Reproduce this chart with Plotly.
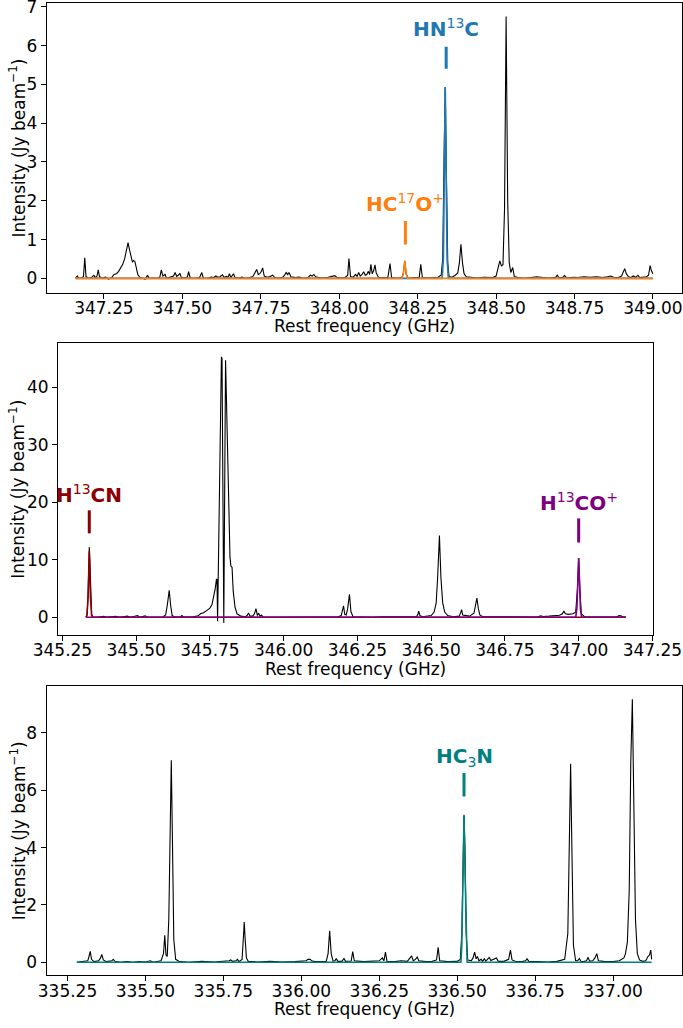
import plotly.graph_objects as go

# ---------------- DATA ----------------
# Panel 1 (348 GHz window)
p1_freq = [347.160, 347.165, 347.170, 347.180, 347.185, 347.189, 347.193, 347.200, 347.210, 347.218,
           347.223, 347.228, 347.232, 347.236, 347.245, 347.255, 347.265, 347.275, 347.282, 347.290,
           347.297, 347.303, 347.310, 347.316, 347.322, 347.327, 347.332, 347.337, 347.341, 347.345,
           347.349, 347.353, 347.358, 347.365, 347.375, 347.382, 347.389, 347.394, 347.405, 347.420,
           347.428, 347.433, 347.438, 347.445, 347.450, 347.465, 347.472, 347.477, 347.482, 347.487,
           347.492, 347.497, 347.510, 347.516, 347.520, 347.525, 347.540, 347.555, 347.562, 347.567,
           347.580, 347.592, 347.600, 347.607, 347.613, 347.620, 347.628, 347.633, 347.640, 347.646,
           347.650, 347.655, 347.663, 347.668, 347.680, 347.690, 347.700, 347.715, 347.725, 347.731,
           347.737, 347.742, 347.747, 347.752, 347.756, 347.761, 347.770, 347.778, 347.788, 347.795,
           347.810, 347.820, 347.826, 347.831, 347.836, 347.840, 347.846, 347.860, 347.872, 347.885,
           347.900, 347.908, 347.914, 347.919, 347.925, 347.935, 347.950, 347.965, 347.975, 347.986,
           347.993, 348.010, 348.020, 348.027, 348.031, 348.036, 348.045, 348.052, 348.057, 348.062,
           348.067, 348.073, 348.078, 348.083, 348.088, 348.093, 348.097, 348.101, 348.105, 348.110,
           348.114, 348.118, 348.125, 348.140, 348.155, 348.162, 348.167, 348.185, 348.200, 348.205,
           348.209, 348.213, 348.220, 348.240, 348.255, 348.260, 348.265, 348.285, 348.300, 348.315,
           348.325, 348.330, 348.334, 348.338, 348.342, 348.346, 348.350, 348.360, 348.370, 348.378,
           348.383, 348.388, 348.393, 348.398, 348.405, 348.420, 348.440, 348.460, 348.475, 348.490,
           348.500, 348.507, 348.512, 348.517, 348.522, 348.527, 348.532, 348.537, 348.542, 348.547,
           348.553, 348.558, 348.570, 348.590, 348.610, 348.630, 348.650, 348.670, 348.690, 348.695,
           348.700, 348.712, 348.718, 348.725, 348.745, 348.760, 348.780, 348.800, 348.820, 348.840,
           348.855, 348.865, 348.875, 348.890, 348.900, 348.906, 348.910, 348.915, 348.922, 348.930,
           348.938, 348.945, 348.952, 348.958, 348.970, 348.980, 348.986, 348.991, 348.995, 349.000]
p1_int = [0.00, 0.06, 0.00, 0.01, 0.05, 0.53, 0.05, 0.00, 0.02, 0.08,
          0.02, 0.06, 0.22, 0.04, 0.01, 0.03, -0.02, 0.02, 0.10, 0.12,
          0.18, 0.25, 0.36, 0.50, 0.74, 0.92, 0.72, 0.52, 0.42, 0.46,
          0.43, 0.28, 0.10, 0.02, 0.00, -0.02, 0.08, 0.00, 0.01, 0.00,
          0.02, 0.22, 0.06, 0.10, 0.00, 0.03, 0.06, 0.15, 0.05, 0.08,
          0.13, 0.02, 0.01, 0.04, 0.17, 0.01, 0.00, 0.02, 0.15, 0.01,
          0.00, 0.03, 0.02, 0.06, 0.03, 0.04, 0.09, 0.02, 0.05, 0.03,
          0.12, 0.02, 0.12, 0.02, 0.01, 0.03, 0.00, 0.02, 0.05, 0.14,
          0.23, 0.10, 0.12, 0.18, 0.27, 0.06, 0.03, 0.04, 0.08, 0.02,
          0.01, 0.03, 0.08, 0.15, 0.10, 0.15, 0.04, 0.02, 0.03, 0.00,
          0.02, 0.08, 0.06, 0.10, 0.04, 0.02, 0.01, 0.03, 0.05, 0.07,
          0.02, 0.01, 0.03, 0.08, 0.51, 0.05, 0.03, 0.10, 0.05, 0.15,
          0.06, 0.10, 0.17, 0.08, 0.10, 0.18, 0.10, 0.36, 0.12, 0.20,
          0.35, 0.14, 0.03, 0.02, 0.02, 0.38, 0.02, 0.00, 0.02, 0.15,
          0.45, 0.12, 0.00, 0.02, 0.02, 0.36, 0.02, 0.01, 0.02, 0.03,
          0.08, 0.50, 3.00, 4.93, 2.50, 0.40, 0.05, 0.03, 0.08, 0.14,
          0.40, 0.88, 0.40, 0.12, 0.04, 0.03, 0.01, 0.03, 0.02, 0.02,
          0.06, 0.30, 0.45, 0.32, 0.35, 1.80, 6.75, 2.00, 0.40, 0.15,
          0.28, 0.05, 0.02, 0.00, 0.02, 0.04, 0.02, 0.01, 0.03, 0.08,
          0.02, 0.02, 0.07, 0.01, 0.03, 0.02, 0.04, 0.03, 0.04, 0.02,
          0.04, 0.06, 0.03, 0.02, 0.06, 0.18, 0.25, 0.12, 0.04, 0.02,
          0.06, 0.02, 0.08, 0.02, 0.03, 0.04, 0.08, 0.33, 0.20, 0.12]
hn13c_freq = [347.160, 348.328, 348.332, 348.335, 348.338, 348.341, 348.344, 348.348, 349.000]
hn13c_int = [0.0, 0.0, 0.5, 2.6, 4.93, 2.6, 0.5, 0.0, 0.0]
hc17o_freq = [347.160, 348.200, 348.204, 348.207, 348.209, 348.211, 348.214, 348.218, 349.000]
hc17o_int = [0.0, 0.0, 0.1, 0.3, 0.45, 0.3, 0.1, 0.0, 0.0]

# Panel 2 (346 GHz window)
p2_freq = [345.330, 345.334, 345.337, 345.340, 345.341, 345.343, 345.346, 345.349, 345.353, 345.370,
           345.390, 345.400, 345.430, 345.445, 345.470, 345.480, 345.505, 345.512, 345.530, 345.540,
           345.590, 345.600, 345.606, 345.612, 345.617, 345.622, 345.630, 345.650, 345.655, 345.660,
           345.690, 345.710, 345.718, 345.728, 345.740, 345.750, 345.757, 345.763, 345.768, 345.772,
           345.774, 345.776, 345.789, 345.791, 345.797, 345.801, 345.803, 345.806, 345.809, 345.813,
           345.818, 345.821, 345.825, 345.829, 345.835, 345.842, 345.855, 345.870, 345.876, 345.881,
           345.886, 345.895, 345.901, 345.906, 345.911, 345.915, 345.920, 345.925, 345.930, 345.960,
           346.000, 346.050, 346.100, 346.150, 346.185, 346.195, 346.199, 346.203, 346.207, 346.212,
           346.217, 346.223, 346.228, 346.235, 346.260, 346.300, 346.340, 346.380, 346.420, 346.450,
           346.455, 346.458, 346.462, 346.470, 346.500, 346.510, 346.517, 346.522, 346.528, 346.533,
           346.539, 346.546, 346.556, 346.575, 346.595, 346.600, 346.603, 346.607, 346.630, 346.645,
           346.650, 346.655, 346.660, 346.665, 346.675, 346.700, 346.719, 346.740, 346.770, 346.800,
           346.830, 346.860, 346.871, 346.880, 346.900, 346.920, 346.935, 346.945, 346.950, 346.955,
           346.965, 346.980, 346.990, 346.996, 347.000, 347.004, 347.009, 347.020, 347.050, 347.080,
           347.110, 347.130, 347.137, 347.143, 347.150, 347.160]
p2_int = [0.0, 0.6, 4.0, 11.0, 12.2, 10.0, 3.0, 0.5, 0.05, 0.0,
          0.15, 0.0, 0.15, 0.0, 0.2, 0.0, 0.3, 0.0, 0.25, 0.0,
          0.05, 0.4, 2.3, 4.7, 2.0, 0.3, 0.05, 0.05, 0.3, 0.05,
          0.05, 0.25, 0.6, 0.8, 1.2, 1.6, 2.2, 3.5, 5.0, 6.6,
          6.6, -0.7, 45.3, 45.0, -1.0, 38.6, 44.7, 38.0, 30.0, 17.4,
          10.5, 8.9, 8.7, 4.5, 1.8, 0.6, 0.2, 0.1, 0.3, 0.75,
          0.2, 0.2, 0.6, 1.5, 0.3, 0.7, 0.2, 0.4, 0.05, 0.0,
          0.05, 0.0, 0.05, 0.05, 0.1, 0.3, 1.2, 2.0, 0.5, 0.4,
          1.5, 4.0, 1.0, 0.1, 0.05, 0.0, 0.1, 0.05, 0.1, 0.1,
          0.5, 1.05, 0.3, 0.1, 0.3, 0.9, 2.5, 7.0, 14.2, 7.0,
          2.5, 0.9, 0.3, 0.1, 0.2, 0.8, 1.35, 0.4, 0.2, 0.7,
          2.0, 3.35, 1.5, 0.4, 0.1, 0.1, 0.15, 0.05, 0.1, 0.05,
          0.1, 0.05, 0.25, 0.15, 0.2, 0.3, 0.35, 0.6, 1.1, 0.6,
          0.5, 0.6, 0.9, 5.0, 10.3, 5.0, 0.6, 0.1, 0.05, 0.1,
          0.05, 0.1, 0.3, 0.25, 0.1, 0.05]
h13cn_freq = [345.330, 345.333, 345.337, 345.341, 345.345, 345.349, 345.353, 347.160]
h13cn_int = [0.0, 0.3, 3.5, 11.5, 3.5, 0.3, 0.0, 0.0]
h13cop_freq = [345.330, 346.990, 346.994, 346.997, 347.000, 347.003, 347.006, 347.010, 347.160]
h13cop_int = [0.0, 0.0, 1.5, 6.0, 10.3, 6.0, 1.5, 0.0, 0.0]

# Panel 3 (336 GHz window)
p3_freq = [335.280, 335.300, 335.315, 335.319, 335.323, 335.327, 335.335, 335.350, 335.356, 335.360,
           335.365, 335.375, 335.385, 335.392, 335.397, 335.402, 335.420, 335.440, 335.460, 335.480,
           335.500, 335.510, 335.516, 335.525, 335.550, 335.558, 335.562, 335.566, 335.570, 335.575,
           335.579, 335.583, 335.587, 335.591, 335.597, 335.610, 335.640, 335.680, 335.720, 335.750,
           335.768, 335.774, 335.780, 335.790, 335.795, 335.800, 335.810, 335.814, 335.817, 335.820,
           335.824, 335.830, 335.860, 335.900, 335.940, 335.980, 336.015, 336.022, 336.028, 336.035,
           336.045, 336.080, 336.086, 336.091, 336.096, 336.102, 336.108, 336.112, 336.117, 336.130,
           336.137, 336.142, 336.160, 336.165, 336.170, 336.200, 336.230, 336.250, 336.260, 336.265,
           336.270, 336.275, 336.300, 336.320, 336.340, 336.349, 336.354, 336.359, 336.366, 336.372,
           336.377, 336.400, 336.420, 336.434, 336.439, 336.444, 336.470, 336.500, 336.510, 336.515,
           336.519, 336.522, 336.525, 336.529, 336.534, 336.545, 336.551, 336.556, 336.561, 336.565,
           336.570, 336.577, 336.582, 336.587, 336.592, 336.598, 336.603, 336.608, 336.615, 336.620,
           336.626, 336.632, 336.650, 336.665, 336.671, 336.676, 336.690, 336.710, 336.720, 336.724,
           336.730, 336.760, 336.790, 336.820, 336.845, 336.855, 336.860, 336.864, 336.868, 336.873,
           336.880, 336.887, 336.892, 336.897, 336.905, 336.915, 336.920, 336.925, 336.935, 336.942,
           336.948, 336.953, 336.970, 337.000, 337.020, 337.035, 337.040, 337.046, 337.052, 337.057,
           337.062, 337.067, 337.072, 337.078, 337.085, 337.095, 337.105, 337.112, 337.117, 337.121,
           337.124]
p3_int = [0.0, 0.02, 0.05, 0.2, 0.38, 0.1, 0.02, 0.05, 0.15, 0.27,
          0.08, 0.02, 0.03, 0.05, 0.1, 0.03, 0.0, 0.02, 0.0, 0.02,
          0.01, 0.03, 0.05, 0.0, 0.05, 0.3, 0.94, 0.25, 0.2, 1.5,
          5.0, 7.05, 4.0, 0.8, 0.1, 0.02, 0.0, 0.03, 0.01, 0.03,
          0.05, 0.08, 0.03, 0.05, 0.1, 0.02, 0.1, 0.8, 1.4, 0.8,
          0.15, 0.03, 0.01, 0.03, 0.01, 0.02, 0.05, 0.1, 0.1, 0.04,
          0.02, 0.03, 0.3, 1.1, 0.3, 0.04, 0.05, 0.13, 0.03, 0.03,
          0.13, 0.03, 0.04, 0.37, 0.05, 0.02, 0.03, 0.05, 0.15, 0.05,
          0.35, 0.03, 0.02, 0.05, 0.03, 0.15, 0.22, 0.05, 0.1, 0.18,
          0.05, 0.02, 0.03, 0.08, 0.52, 0.05, 0.02, 0.03, 0.1, 1.0,
          4.0, 5.15, 4.0, 1.0, 0.08, 0.05, 0.15, 0.35, 0.12, 0.2,
          0.05, 0.1, 0.03, 0.12, 0.04, 0.12, 0.17, 0.06, 0.1, 0.13,
          0.15, 0.03, 0.03, 0.1, 0.42, 0.08, 0.02, 0.03, 0.05, 0.12,
          0.03, 0.02, 0.01, 0.03, 0.1, 1.0, 5.0, 6.93, 4.0, 0.6,
          0.05, 0.05, 0.13, 0.03, 0.02, 0.05, 0.17, 0.04, 0.05, 0.15,
          0.3, 0.05, 0.03, 0.02, 0.05, 0.15, 0.3, 0.7, 2.5, 7.0,
          9.18, 6.0, 1.5, 0.3, 0.08, 0.03, 0.05, 0.2, 0.25, 0.42,
          0.1]
hc3n_freq = [335.280, 336.512, 336.515, 336.518, 336.522, 336.526, 336.529, 336.532, 337.124]
hc3n_int = [0.0, 0.0, 0.6, 2.8, 5.1, 2.8, 0.6, 0.0, 0.0]

# Tick values
p1_xticks = [347.25, 347.50, 347.75, 348.00, 348.25, 348.50, 348.75, 349.00]
p1_yticks = [0, 1, 2, 3, 4, 5, 6, 7]
p2_xticks = [345.25, 345.50, 345.75, 346.00, 346.25, 346.50, 346.75, 347.00, 347.25]
p2_yticks = [0, 10, 20, 30, 40]
p3_xticks = [335.25, 335.50, 335.75, 336.00, 336.25, 336.50, 336.75, 337.00]
p3_yticks = [0, 2, 4, 6, 8]

# ---------------- STYLE / LAYOUT ----------------
W, H = 683, 1028
FONT = "DejaVu Sans"
BLUE, ORANGE, DARKRED, PURPLE, TEAL = "#1f77b4", "#ff7f0e", "#8b0000", "#800080", "#008080"

# panel frames in pixels: (left, right, top, bottom)
frames = [(46.8, 681.8, 3.3, 292.7), (58.0, 653.0, 343.3, 635.0), (46.6, 681.6, 686.0, 975.4)]
xranges = [[347.068, 349.092], [345.235, 347.252], [335.183, 337.220]]
yranges = [[-0.37, 7.09], [-3.08, 47.65], [-0.46, 9.64]]
xticks = [p1_xticks, p2_xticks, p3_xticks]
yticks = [p1_yticks, p2_yticks, p3_yticks]
xtitle_y = [325.5, 668.5, 1009.0]

fig = go.Figure()

def add_line(fx, fy, color, width, idx):
    sfx = "" if idx == 1 else str(idx)
    fig.add_trace(go.Scatter(x=fx, y=fy, mode="lines", line=dict(color=color, width=width),
                             xaxis="x" + sfx, yaxis="y" + sfx, showlegend=False, hoverinfo="skip"))

add_line(p1_freq, p1_int, "black", 1.1, 1)
add_line(hn13c_freq, hn13c_int, BLUE, 1.7, 1)
add_line(hc17o_freq, hc17o_int, ORANGE, 1.6, 1)
add_line(p2_freq, p2_int, "black", 1.1, 2)
add_line(h13cn_freq, h13cn_int, DARKRED, 1.6, 2)
add_line(h13cop_freq, h13cop_int, PURPLE, 1.6, 2)
add_line(p3_freq, p3_int, "black", 1.1, 3)
add_line(hc3n_freq, hc3n_int, TEAL, 1.6, 3)

layout = dict(width=W, height=H, margin=dict(l=0, r=0, t=0, b=0, autoexpand=False),
              paper_bgcolor="white", plot_bgcolor="white", showlegend=False,
              font=dict(family=FONT, size=17, color="black"))
annotations = []
shapes = []
for i, (l, r, t, b) in enumerate(frames):
    sfx = "" if i == 0 else str(i + 1)
    ax = dict(showline=True, mirror=True, linecolor="black", linewidth=1,
              ticks="outside", ticklen=5, tickwidth=1, tickcolor="black", automargin=False,
              ticklabeloverflow="allow",
              showgrid=False, zeroline=False, tickfont=dict(family=FONT, size=17, color="black"))
    layout["xaxis" + sfx] = dict(ax, domain=[l / W, r / W], range=xranges[i],
                                 tickvals=xticks[i], tickformat=".2f", anchor="y" + sfx,
                                 ticklabelstandoff=-5)
    layout["yaxis" + sfx] = dict(ax, domain=[1 - b / H, 1 - t / H], range=yranges[i],
                                 tickvals=yticks[i], anchor="x" + sfx)
    annotations.append(dict(text="Rest frequency (GHz)", xref="paper", yref="paper",
                            x=(l + r) / 2 / W, y=1 - xtitle_y[i] / H, showarrow=False,
                            xanchor="center", yanchor="middle",
                            font=dict(family=FONT, size=17, color="black")))
    annotations.append(dict(text="Intensity (Jy beam<sup>−1</sup>)", xref="paper", yref="paper",
                            x=17.5 / W, y=1 - (t + b) / 2 / H, showarrow=False, textangle=-90,
                            xanchor="center", yanchor="middle",
                            font=dict(family=FONT, size=17, color="black")))

# molecule labels: (text, freq, label y, bar bottom, bar top, color, panel)
labels = [
    ("<b>HN</b><sup>13</sup><b>C</b>", 348.341, 6.45, 5.40, 5.97, BLUE, 1),
    ("<b>HC</b><sup>17</sup><b>O</b><sup>+</sup>", 348.211, 1.95, 0.87, 1.48, ORANGE, 1),
    ("<b>H</b><sup>13</sup><b>CN</b>", 345.341, 21.5, 14.6, 18.6, DARKRED, 2),
    ("<b>H</b><sup>13</sup><b>CO</b><sup>+</sup>", 347.000, 20.1, 13.0, 17.2, PURPLE, 2),
    ("<b>HC</b><sub>3</sub><b>N</b>", 336.522, 7.15, 5.78, 6.60, TEAL, 3),
]
for text, f, ly, b0, b1, col, p in labels:
    sfx = "" if p == 1 else str(p)
    annotations.append(dict(text=text, x=f, y=ly, xref="x" + sfx, yref="y" + sfx, showarrow=False,
                            xanchor="center", yanchor="middle",
                            font=dict(family=FONT, size=20, color=col)))
    shapes.append(dict(type="line", xref="x" + sfx, yref="y" + sfx, x0=f, x1=f, y0=b0, y1=b1,
                       line=dict(color=col, width=3)))

layout["annotations"] = annotations
layout["shapes"] = shapes
fig.update_layout(**layout)
fig.write_html("out.html", config={"displayModeBar": False, "staticPlot": True},
               post_script="document.body.style.margin='0';")
